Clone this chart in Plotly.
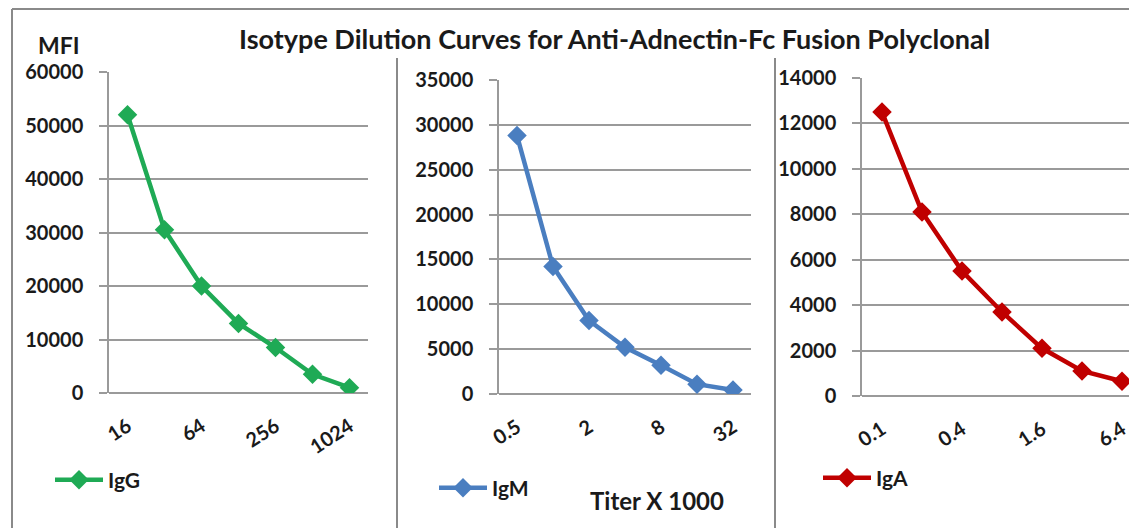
import plotly.graph_objects as go

# The page body adds an 8px offset, so the figure covers window pixels 8..1137 / 8..528.
OFF = 8
W, H = 1137 - OFF, 528 - OFF

igg_titer = ["16", "32", "64", "128", "256", "512", "1024"]
igg_mfi = [52000, 30500, 20000, 13000, 8500, 3500, 1000]
igg_labels = ["16", "64", "256", "1024"]

igm_titer = ["0.5", "1", "2", "4", "8", "16", "32"]
igm_mfi = [28800, 14200, 8200, 5200, 3200, 1100, 450]
igm_labels = ["0.5", "2", "8", "32"]

iga_titer = ["0.1", "0.2", "0.4", "0.8", "1.6", "3.2", "6.4"]
iga_mfi = [12500, 8100, 5500, 3700, 2100, 1100, 650]
iga_labels = ["0.1", "0.4", "1.6", "6.4"]

title_text = "Isotype Dilution Curves for Anti-Adnectin-Fc Fusion Polyclonal"
y_title = "MFI"
x_title = "Titer X 1000"

GREEN = "#1faa55"
BLUE = "#4a7ec0"
RED = "#c00000"
GRID = "#9a9a9a"
TXT = "#1a1a1a"
FONT = "Lato"


def px(x):
    return (x - OFF) / W


def py(y):
    return 1 - (y - OFF) / H


fig = go.Figure()

panels = [
    ("IgG", igg_titer, igg_mfi, GREEN, "x", "y", "legend"),
    ("IgM", igm_titer, igm_mfi, BLUE, "x2", "y2", "legend2"),
    ("IgA", iga_titer, iga_mfi, RED, "x3", "y3", "legend3"),
]
for name, xs, ys, col, xa, ya, lg in panels:
    fig.add_trace(go.Scatter(
        x=xs, y=ys, name=name, mode="lines+markers",
        line=dict(color=col, width=4.5),
        marker=dict(symbol="diamond", size=15, color=col),
        xaxis=xa, yaxis=ya, legend=lg, showlegend=True,
    ))

tickfont = dict(family=FONT, size=20, color=TXT, weight="bold")


def xaxis(domain, cats, labels, rng, anchor):
    return dict(
        domain=domain, anchor=anchor, type="category", categoryorder="array",
        categoryarray=cats, tickmode="array", tickvals=labels, ticktext=labels,
        tickangle=-33, range=rng, showgrid=False, zeroline=False, showline=False,
        ticks="", ticklabelstandoff=17, tickfont=tickfont, automargin=False,
        fixedrange=True,
    )


def yaxis(domain, rng, dtick, anchor):
    return dict(
        domain=domain, range=rng, dtick=dtick, anchor=anchor,
        showgrid=True, gridcolor=GRID, gridwidth=1.5,
        zeroline=True, zerolinecolor=GRID, zerolinewidth=1.5,
        showline=True, linecolor=GRID, linewidth=1.5,
        ticks="outside", ticklen=8, tickcolor=GRID, tickwidth=1.5,
        ticklabelstandoff=12, tickfont=tickfont, tickformat="d",
        automargin=False, fixedrange=True,
    )


fig.update_layout(
    width=W, height=H,
    margin=dict(l=0, r=0, t=0, b=0, autoexpand=False),
    paper_bgcolor="white", plot_bgcolor="white",
    font=dict(family=FONT, color=TXT),
    xaxis=xaxis([px(109), px(368)], igg_titer, igg_labels, [-0.5, 6.5], "y"),
    yaxis=yaxis([py(393), py(72)], [0, 60000], 10000, "x"),
    xaxis2=xaxis([px(499), px(751)], igm_titer, igm_labels, [-0.5, 6.5], "y2"),
    yaxis2=yaxis([py(394), py(80)], [0, 35000], 5000, "x2"),
    xaxis3=xaxis([px(862), 1.0], iga_titer, iga_labels, [-0.5, (1137 - 862) / 40 - 0.5], "y3"),
    yaxis3=yaxis([py(396), py(78)], [0, 14000], 2000, "x3"),
    showlegend=True,
)
for key, lx, ly in [("legend", 50, 480), ("legend2", 434, 488), ("legend3", 818, 478)]:
    fig.update_layout({key: dict(
        x=px(lx), y=py(ly), xanchor="left", yanchor="middle",
        bgcolor="rgba(0,0,0,0)", borderwidth=0, itemwidth=48,
        font=dict(family=FONT, size=21, color=TXT, weight="bold"),
    )})

fig.add_annotation(text=title_text, x=px(614), y=py(38), xref="paper", yref="paper",
                   xanchor="center", yanchor="middle", showarrow=False,
                   font=dict(family=FONT, size=27, color=TXT, weight="bold"))
fig.add_annotation(text=y_title, x=px(59), y=py(45), xref="paper", yref="paper",
                   xanchor="center", yanchor="middle", showarrow=False,
                   font=dict(family=FONT, size=23, color=TXT, weight="bold"))
fig.add_annotation(text=x_title, x=px(657), y=py(500), xref="paper", yref="paper",
                   xanchor="center", yanchor="middle", showarrow=False,
                   font=dict(family=FONT, size=24, color=TXT, weight="bold"))

frame = dict(color="#8a8a8a", width=2)
fig.add_shape(type="line", xref="paper", yref="paper", x0=px(12), x1=1, y0=py(9), y1=py(9), line=frame)
fig.add_shape(type="line", xref="paper", yref="paper", x0=px(12), x1=px(12), y0=py(9), y1=0, line=frame)
fig.add_shape(type="line", xref="paper", yref="paper", x0=px(397), x1=px(397), y0=py(58), y1=0, line=frame)
fig.add_shape(type="line", xref="paper", yref="paper", x0=px(775), x1=px(775), y0=py(58), y1=0, line=frame)

fig.write_html("out.html")
